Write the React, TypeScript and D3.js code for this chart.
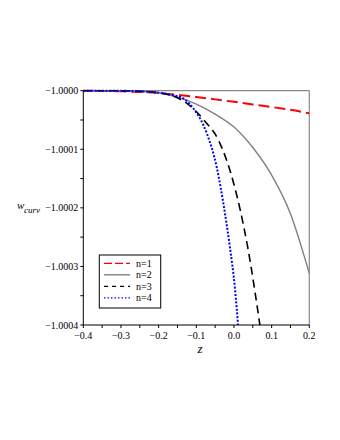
import React from "react";
import * as d3 from "d3";

const n1Z = [-0.4, -0.35, -0.3, -0.25, -0.2, -0.15, -0.1, -0.05, 0, 0.05, 0.1, 0.15, 0.2];
const n1D = [0, 0.004, 0.01, 0.022, 0.04, 0.072, 0.108, 0.148, 0.19, 0.235, 0.278, 0.327, 0.386];
const n2Z = [-0.4, -0.3, -0.25, -0.2, -0.15, -0.1, -0.05, 0, 0.05, 0.1, 0.15, 0.2];
const n2D = [0, 0.003, 0.012, 0.035, 0.11, 0.23, 0.4, 0.62, 0.97, 1.44, 2.1, 3.12];
const n3Z = [-0.4, -0.3, -0.25, -0.2, -0.15, -0.12, -0.08, -0.04, 0, 0.035, 0.07];
const n3D = [0, 0.002, 0.01, 0.035, 0.12, 0.24, 0.5, 0.86, 1.6, 2.62, 4.05];
const n4Z = [-0.4, -0.3, -0.25, -0.2, -0.16, -0.135, -0.108, -0.072, -0.046, -0.024, -0.011, 0.003, 0.012];
const n4D = [0, 0.002, 0.01, 0.035, 0.08, 0.13, 0.3, 0.73, 1.3, 2.09, 2.66, 3.4, 4.1];

const xTicks = [-0.4, -0.3, -0.2, -0.1, 0.0, 0.1, 0.2];
const yTicks = [-1.0, -1.0001, -1.0002, -1.0003, -1.0004];
const legendLabels = ["n=1", "n=2", "n=3", "n=4"];

const series = [
  { z: n1Z, d: n1D, color: "#ff0000", dash: "11,5", width: 2 },
  { z: n2Z, d: n2D, color: "#808080", dash: "", width: 1.4 },
  { z: n3Z, d: n3D, color: "#000000", dash: "8,5", width: 1.6 },
  { z: n4Z, d: n4D, color: "#0000ff", dash: "2,1.7", width: 2 },
];

const L = 83.3, R = 309.3, T = 90.7, B = 325;

export default function App() {
  const x = d3.scaleLinear().domain([-0.4, 0.2]).range([L, R]);
  const y = d3.scaleLinear().domain([-1.0, -1.0004]).range([T, B]);
  const line = d3
    .line<[number, number]>()
    .x((p) => x(p[0]))
    .y((p) => y(p[1]))
    .curve(d3.curveMonotoneX);

  const xMinor = d3.range(-0.4, 0.2001, 0.05);
  const yMinor = d3.range(0, 8.001, 1).map((i) => -1.0 - i * 0.00005);
  const fmt = (v: number) => "\u2212" + Math.abs(v).toFixed(4);
  const fmtX = (v: number) => (v < 0 ? "\u2212" : "") + Math.abs(v).toFixed(1);

  return (
    <svg
      width={340}
      height={440}
      style={{ position: "absolute", left: 0, top: 0, background: "#fff" }}
      fontFamily="'Liberation Serif', 'DejaVu Serif', serif"
    >
      <defs>
        <clipPath id="plotclip">
          <rect x={L} y={T - 2} width={R - L} height={B - T + 2} />
        </clipPath>
      </defs>
      {/* frame */}
      <line x1={L} y1={T} x2={R} y2={T} stroke="#888" strokeWidth={1.2} />
      <line x1={R} y1={T} x2={R} y2={B} stroke="#888" strokeWidth={1.2} />

      <g clipPath="url(#plotclip)">
        {series.map((s, i) => (
          <path
            key={i}
            d={line(s.z.map((z, j) => [z, -1.0 - s.d[j] * 1e-4] as [number, number])) || ""}
            fill="none"
            stroke={s.color}
            strokeWidth={s.width}
            strokeDasharray={s.dash || undefined}
          />
        ))}
      </g>

      {/* axes */}
      <line x1={L} y1={T} x2={L} y2={B} stroke="#000" strokeWidth={1} />
      <line x1={L} y1={B} x2={R} y2={B} stroke="#000" strokeWidth={1} />
      {yMinor.map((v, i) => (
        <line key={"ym" + i} x1={L - 3} x2={L} y1={y(v)} y2={y(v)} stroke="#000" strokeWidth={1} />
      ))}
      {xMinor.map((v, i) => (
        <line key={"xm" + i} x1={x(v)} x2={x(v)} y1={B} y2={B + 3} stroke="#000" strokeWidth={1} />
      ))}
      {yTicks.map((v, i) => (
        <text key={"yt" + i} x={L - 5} y={y(v) + 3.5} fontSize={10} textAnchor="end" fill="#000">
          {fmt(v)}
        </text>
      ))}
      {xTicks.map((v, i) => (
        <text key={"xt" + i} x={x(v)} y={B + 14} fontSize={10} textAnchor="middle" fill="#000">
          {fmtX(v)}
        </text>
      ))}

      {/* axis labels */}
      <text x={200} y={353} fontSize={13} fontStyle="italic" textAnchor="middle">
        z
      </text>
      <text x={17} y={209} fontSize={11} fontStyle="italic">
        w
      </text>
      <text x={24} y={213} fontSize={9} fontStyle="italic">
        curv
      </text>

      {/* legend */}
      <rect x={99.3} y={255} width={61.4} height={53} fill="#fff" stroke="#000" strokeWidth={1} />
      {series.map((s, i) => {
        const ly = 263.3 + i * 11.5;
        return (
          <g key={"lg" + i}>
            <line
              x1={104}
              x2={130}
              y1={ly}
              y2={ly}
              stroke={s.color}
              strokeWidth={i === 1 ? 1.4 : 1.2}
              strokeDasharray={i === 0 ? "8,3" : i === 2 ? "4,4" : i === 3 ? "1.5,2" : undefined}
            />
            <text x={136} y={ly + 3.5} fontSize={10} fill="#000">
              {legendLabels[i]}
            </text>
          </g>
        );
      })}
    </svg>
  );
}
